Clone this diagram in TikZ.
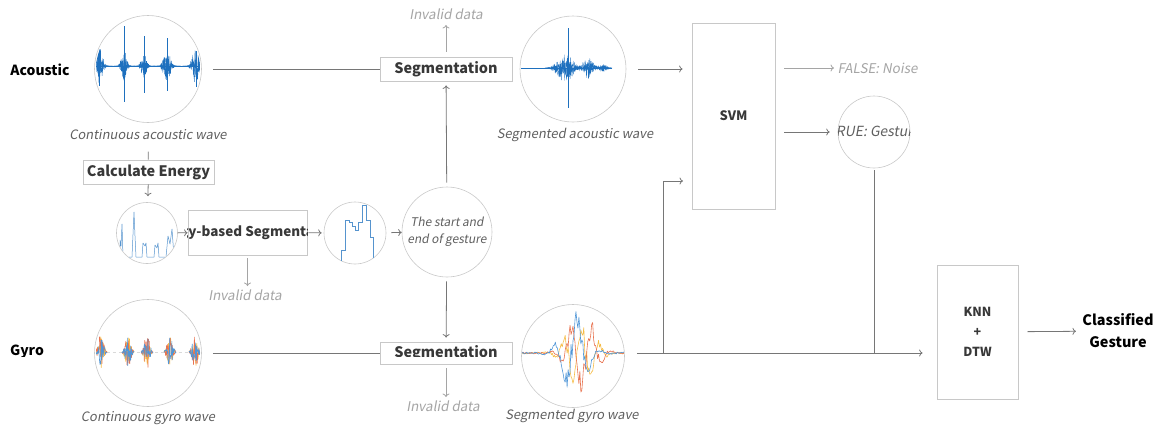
\documentclass[tikz,border=0pt]{standalone}
\usepackage{fontspec}
\setmainfont{Noto Sans CJK KR}[AutoFakeSlant=0.18]
\usetikzlibrary{positioning,arrows.meta}
\definecolor{waveblue}{RGB}{30,112,190}
\definecolor{gyroblue}{RGB}{80,150,215}
\definecolor{gyroorange}{RGB}{232,115,80}
\definecolor{gyroyellow}{RGB}{245,188,70}
\definecolor{boxgray}{RGB}{200,200,200}
\definecolor{arrgray}{RGB}{118,118,118}
\definecolor{capgray}{RGB}{95,95,95}
\definecolor{faintgray}{RGB}{165,165,165}
\tikzset{
  procbox/.style={draw=boxgray, line width=0.8pt, inner sep=0pt, text=black!78,
    font=\bfseries\fontsize{14.5}{17}\selectfont},
  wavecirc/.style={circle, draw=boxgray, line width=0.6pt, inner sep=0pt},
  rowlabel/.style={font=\bfseries\fontsize{14}{17}\selectfont, text=black},
  caption/.style={font=\itshape\fontsize{13}{15}\selectfont, text=capgray},
  invalid/.style={font=\itshape\fontsize{13.5}{15}\selectfont, text=faintgray},
  link/.style={draw=arrgray, line width=0.8pt},
  flow/.style={link, -{To[length=3.5pt,width=7pt]}},
  faintflow/.style={flow, draw=faintgray},
  wave/.style={line width=0.35pt, line join=round},
}
\begin{document}
\begin{tikzpicture}[x=1bp, y=-1bp]
  \useasboundingbox (0,0) rectangle (1154,428);
  \pgfmathsetseed{11}

  % acoustic row
  \node[rowlabel] (aclab) at (40,70) {Acoustic};
  \node[wavecirc, minimum size=107bp] (acwave) at (148,69) {};
  \node[caption] (accap) at (148,135) {Continuous acoustic wave};
  \node[procbox, minimum width=132bp, minimum height=24bp] (segac) at (446,69) {Segmentation};
  \node[invalid] (invtop) at (446,14) {Invalid data};
  \node[wavecirc, minimum size=106bp] (segacw) at (573,69) {};
  \node[caption] (segaccap) at (575,135) {Segmented acoustic wave};
  \node[procbox, minimum width=83bp, minimum height=186bp,
        font=\bfseries\fontsize{13}{16}\selectfont] (svm) at (733.5,116) {SVM};
  \node[invalid, anchor=west] (noise) at (834,68) {FALSE: Noise};
  \node[wavecirc, minimum size=72bp] (truec) at (874,132) {};
  \begin{scope}
    \clip (874,132) circle (36bp);
    \node[font=\itshape\fontsize{14}{17}\selectfont, text=capgray] (truetxt) at (874,131) {TRUE: Gesture};
  \end{scope}

  % energy branch
  \node[procbox, minimum width=131bp, minimum height=24bp] (calc) at (148.5,172) {Calculate Energy};
  \node[wavecirc, minimum size=61bp] (ecirc) at (147,233) {};
  \node[procbox, minimum width=119bp, minimum height=45bp] (ebs) at (247.5,232.5) {};
  \begin{scope}
    \clip (ebs.south west) rectangle (ebs.north east);
    \node[procbox, draw=none, font=\bfseries\fontsize{13.5}{16}\selectfont] at (245,232.5) {Energy-based Segmentation};
  \end{scope}
  \node[invalid] (einv) at (245,295) {Invalid data};
  \node[wavecirc, minimum size=62bp] (stepc) at (355,233) {};
  \node[wavecirc, minimum size=90bp, align=center,
        font=\itshape\fontsize{12}{17}\selectfont, text=capgray] (startc) at (447,232) {The start and\\end of gesture};

  % gyro row
  \node[wavecirc, minimum size=107bp] (gyrow) at (148,353) {};
  \node[caption] (gyrocap) at (148,418) {Continuous gyro wave};
  \node[procbox, minimum width=132bp, minimum height=22bp] (segg) at (446,353) {};
  \begin{scope}
    \clip (0,335) rectangle (520,356.5);
    \node[rowlabel] (gyrolab) at (27,352) {Gyro};
    \node[procbox, draw=none] at (446,353) {Segmentation};
  \end{scope}
  \node[invalid] (ginv) at (443,406) {Invalid data};
  \node[wavecirc, minimum size=103bp] (seggw) at (573,356) {};
  \node[caption] (seggcap) at (572,416) {Segmented gyro wave};
  \node[procbox, minimum width=81bp, minimum height=134bp, align=center,
        font=\bfseries\fontsize{12.5}{20}\selectfont] (knn) at (977.5,332) {KNN\\+\\DTW};
  \node[rowlabel, align=center, font=\bfseries\fontsize{14.5}{22}\selectfont] (cls) at (1118,331) {Classified\\Gesture};

  \coordinate (jsvm) at (663,353);
  \coordinate (svmin) at (683,181);
  \coordinate (jtrue) at (874,353);

  % connectors
  \draw[link, shorten <=11bp] (acwave) -- (segac);
  \draw[faintflow, shorten <=5bp, shorten >=2bp] (segac) -- (invtop);
  \draw[flow, shorten <=12bp, shorten >=9bp] (segacw) -- (svm.west |- segacw);
  \draw[faintflow, shorten <=9bp] (svm.east |- noise) -- (noise.west);
  \draw[flow, shorten <=9bp, shorten >=8bp] (svm.east |- truec) -- (truec.west);
  \draw[link, shorten <=2bp] (truec.south) -- (jtrue);
  \draw[link, shorten <=8bp] (accap) -- (calc);
  \draw[flow, shorten >=6bp] (calc) -- (ecirc);
  \draw[flow] (ecirc) -- (ebs);
  \draw[flow, shorten <=1bp, shorten >=2bp] (ebs) -- (stepc);
  \draw[flow, shorten <=5bp] (stepc) -- (startc);
  \draw[faintflow, shorten <=3bp] (ebs.south) -- (ebs.south |- einv.north);
  \draw[flow, shorten <=4bp, shorten >=4bp] (startc) -- (segac);
  \draw[flow, shorten <=4bp, shorten >=4bp] (startc) -- (segg);
  \draw[faintflow, shorten <=4bp] (segg.south) -- (segg.south |- ginv.north);
  \draw[link, shorten <=11bp] (gyrow) -- (segg);
  \draw[flow, shorten <=12bp, shorten >=14bp] (seggw.east |- jsvm) -- (knn.west |- jsvm);
  \draw[flow] (jsvm) |- (svmin);
  \draw[flow, shorten <=9bp, shorten >=3bp] (knn) -- (cls);

  % waveforms
  \begin{scope}
    \clip (acwave.center) circle (52bp);
    \draw[waveblue, line width=0.6pt] (95,66) -- (202,66);
    \foreach \cx/\amp/\wd/\spk in {99/19/4.5/22, 124/15/3.5/40, 144/13/3.5/30, 167/16/4.5/28, 196/19/4.5/25}{
      \draw[waveblue, wave] plot[domain=\cx-3*\wd:\cx+3*\wd, samples=120]
        (\x, {66+\amp*exp(-((\x-\cx)/\wd)^2)*rand});
      \draw[waveblue, wave] plot[domain=\cx-3*\wd:\cx+3*\wd, samples=90]
        (\x, {66+0.6*\amp*exp(-((\x-\cx)/\wd)^2)*rand});
      \draw[waveblue, line width=0.7pt] (\cx,66-\spk) -- (\cx,66+0.9*\spk);
    }
  \end{scope}
  \begin{scope}
    \clip (segacw.center) circle (52bp);
    \draw[waveblue, line width=0.6pt] (520,68) -- (612,68);
    \draw[waveblue, wave] plot[domain=545:612, samples=300]
      (\x, {68+(14*exp(-((\x-565)/10)^2)+11*exp(-((\x-588)/6)^2)+4*exp(-((\x-603)/5)^2))*rand});
    \draw[waveblue, wave] plot[domain=545:612, samples=220]
      (\x, {68+0.6*(14*exp(-((\x-565)/10)^2)+11*exp(-((\x-588)/6)^2)+4*exp(-((\x-603)/5)^2))*rand});
    \draw[waveblue, line width=0.7pt] (568,28) -- (568,108);
  \end{scope}
  \begin{scope}
    \clip (ecirc.center) circle (30bp);
    \draw[waveblue!75, wave, line width=0.5pt] (116,257) -- (120,257) -- (120,240) -- (121,246) -- (122,224)
      -- (123,257) -- (132,257) -- (134,212) -- (135,236) -- (136,257) -- (142,257) -- (143,243)
      -- (145,246) -- (146,243) -- (147,257) -- (154,257) -- (155,245) -- (157,248) -- (158,243)
      -- (159,257) -- (166,257) -- (168,236) -- (170,244) -- (172,229) -- (174,257) -- (180,257);
  \end{scope}
  \begin{scope}
    \clip (stepc.center) circle (31bp);
    \draw[waveblue!75, line width=0.5pt] (340,266) -- (341,266) -- (341,250) -- (345,250) -- (345,220)
      -- (349,220) -- (349,222) -- (352,222) -- (352,226) -- (355,226) -- (355,230) -- (358,230)
      -- (358,222) -- (362,222) -- (362,205) -- (366,205) -- (366,220) -- (370,220) -- (370,237)
      -- (373,237) -- (373,266);
  \end{scope}
  \begin{scope}
    \clip (gyrow.center) circle (52bp);
    \draw[gray!30, wave, dashed] (95,352) -- (202,352);
    \foreach \cx in {101,128,147,170,195}{
      \draw[gyroyellow, wave, line width=0.6pt] plot[domain=\cx-6:\cx+6, samples=30]
        (\x, {352+16*exp(-((\x-\cx)/3.5)^2)*rand});
      \draw[gyroorange, wave, line width=0.6pt] plot[domain=\cx-6:\cx+6, samples=30]
        (\x, {352+18*exp(-((\x-\cx)/3.5)^2)*rand});
      \draw[gyroblue, wave, line width=0.6pt] plot[domain=\cx-6:\cx+6, samples=30]
        (\x, {352+15*exp(-((\x-\cx)/3.5)^2)*rand});
    }
  \end{scope}
  \begin{scope}
    \clip (seggw.center) circle (51bp);
    \draw[gyroyellow, wave, line width=0.6pt] plot[domain=520:627, samples=110]
      (\x, {353+exp(-((\x-580)/18)^2)*(28*sin(20*(\x-560)+200)+11*rand)+1*rand});
    \draw[gyroorange, wave, line width=0.6pt] plot[domain=520:627, samples=110]
      (\x, {353+exp(-((\x-582)/17)^2)*(33*sin(17*(\x-560)+90)+13*rand)+1*rand});
    \draw[gyroblue, wave, line width=0.6pt] plot[domain=520:627, samples=110]
      (\x, {353+exp(-((\x-574)/17)^2)*(33*sin(15*(\x-560)+10)+11*rand)+1*rand});
  \end{scope}
\end{tikzpicture}
\end{document}
